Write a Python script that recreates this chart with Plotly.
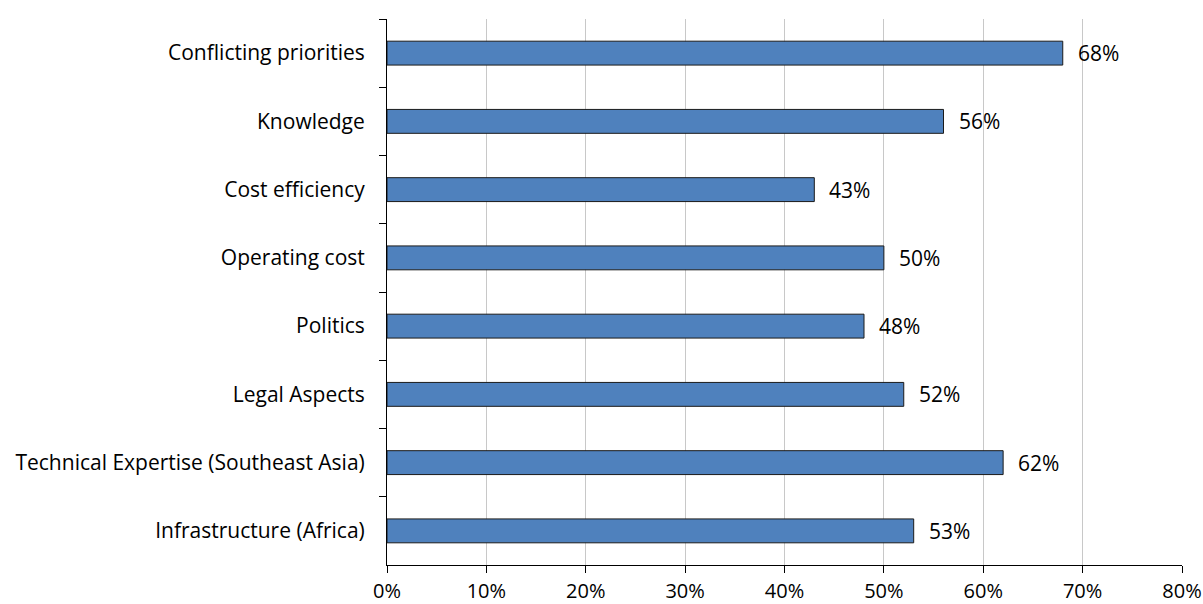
import plotly.graph_objects as go

categories = [
    "Conflicting priorities",
    "Knowledge",
    "Cost efficiency",
    "Operating cost",
    "Politics",
    "Legal Aspects",
    "Technical Expertise (Southeast Asia)",
    "Infrastructure (Africa)",
]
values = [0.68, 0.56, 0.43, 0.50, 0.48, 0.52, 0.62, 0.53]
x_ticks = [0, 0.1, 0.2, 0.3, 0.4, 0.5, 0.6, 0.7, 0.8]
x_tick_labels = ["0%", "10%", "20%", "30%", "40%", "50%", "60%", "70%", "80%"]

FONT = "Open Sans, Carlito, Calibri, sans-serif"
FSIZE = 21

fig = go.Figure(
    go.Bar(
        x=values,
        y=categories,
        orientation="h",
        marker=dict(color="#4F81BD", line=dict(color="#1a1a1a", width=1)),
        hoverinfo="x+y",
    )
)

# value labels to the right of each bar
for cat, v in zip(categories, values):
    fig.add_annotation(
        x=v, y=cat, text=f"{round(v * 100)}%",
        xanchor="left", yanchor="middle", xshift=13, showarrow=False,
        font=dict(family=FONT, size=FSIZE, color="#000000"),
    )

fig.update_layout(
    width=1203, height=604,
    margin=dict(l=387, r=21, t=19, b=39),
    plot_bgcolor="white", paper_bgcolor="white",
    bargap=0.65,
    showlegend=False,
    font=dict(family=FONT, size=FSIZE, color="#000000"),
)
fig.update_xaxes(
    range=[0, 0.8],
    tickvals=x_ticks, ticktext=x_tick_labels,
    showgrid=True, gridcolor="#c8c8c8", gridwidth=1,
    showline=True, linecolor="#000000", linewidth=1,
    ticks="outside", ticklen=7, tickcolor="#000000",
    zeroline=False,
    automargin=False,
    ticklabelstandoff=1,
    tickfont=dict(family=FONT, size=20),
)
fig.update_yaxes(
    type="category",
    autorange="reversed",
    showline=True, linecolor="#000000", linewidth=1,
    ticks="outside", ticklen=7, tickcolor="#000000",
    tickson="boundaries",
    showgrid=False,
    automargin=False,
    ticklabelstandoff=17,
    tickfont=dict(family=FONT, size=FSIZE),
)

fig.write_html("out.html")
